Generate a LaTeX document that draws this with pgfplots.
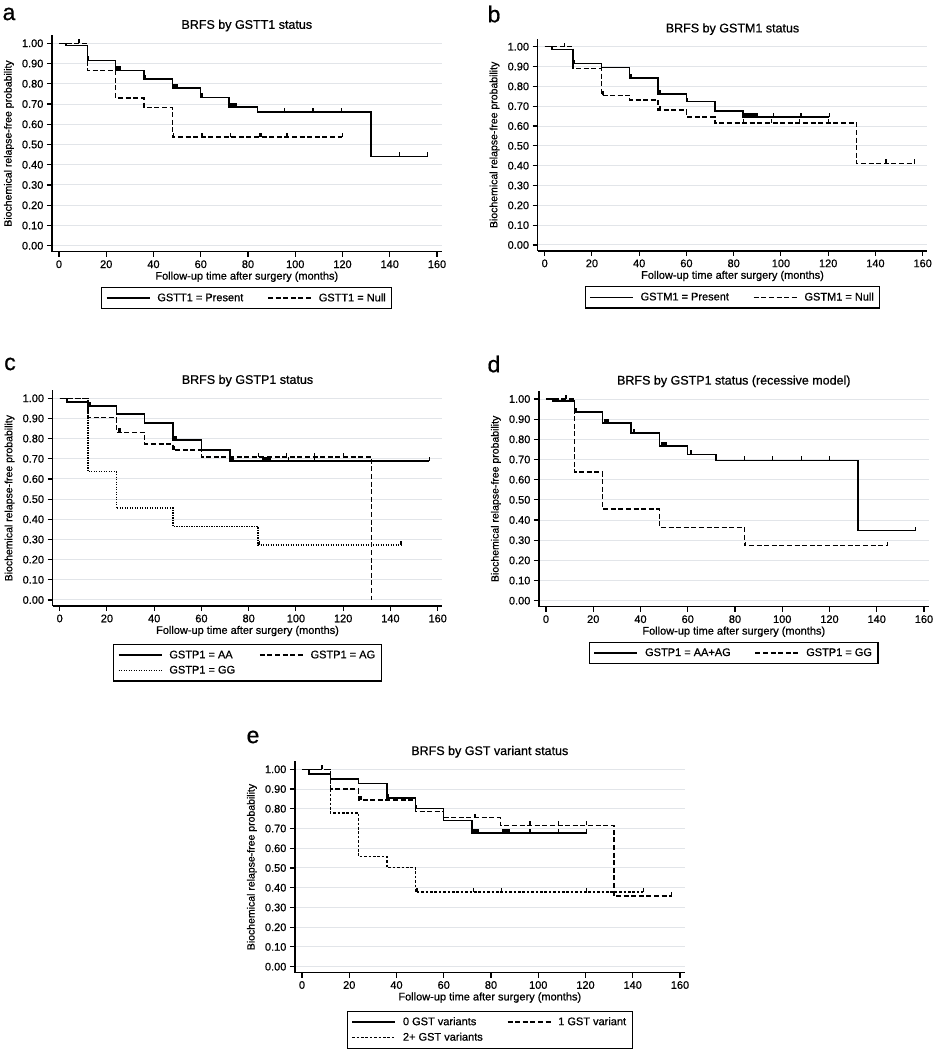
\documentclass[border=0pt]{standalone}
\usepackage{pgfplots}
\pgfplotsset{compat=1.18}
\usepackage{fontspec}
\setmainfont{Liberation Sans}[FakeBold=0.7]
\definecolor{gridgray}{RGB}{226,229,233}
\pgfdeclareplotmark{cens}{\pgfpathmoveto{\pgfqpoint{0pt}{0pt}}\pgfpathlineto{\pgfqpoint{0pt}{\pgfplotmarksize}}\pgfusepathqstroke}
\pgfplotsset{
 km/.style={
  scale only axis, width=389.8pt,
  xmin=-3, xmax=162, ymin=-0.03, ymax=1.04,
  axis x line*=bottom, axis y line*=left,
  axis line style={-, line width=1.3pt, black},
  xtick={0,20,40,60,80,100,120,140,160},
  ytick={0,0.1,0.2,0.3,0.4,0.5,0.6,0.7,0.8,0.9,1},
  ymajorgrids, grid style={gridgray, line width=1pt},
  tick align=outside, major tick length=5pt,
  tick style={black, line width=1.1pt},
  ticklabel style={font=\fontsize{11}{13}\selectfont},
  /pgf/number format/assume math mode=true,
  yticklabel style={/pgf/number format/fixed, /pgf/number format/fixed zerofill, /pgf/number format/precision=2},
  xlabel={Follow-up time after surgery (months)},
  ylabel={Biochemical relapse-free probability},
  xlabel style={font=\fontsize{11}{13}\selectfont, at={(axis description cs:0.5,0)}, anchor=center, yshift=-25pt},
  ylabel style={font=\fontsize{10.5}{12}\selectfont, at={(axis description cs:-0.1103,0.5)}, anchor=center},
  title style={font=\fontsize{12.5}{15}\selectfont, at={(axis description cs:0.5,1)}, anchor=center, yshift=3.6pt},
  legend columns=2,
  legend cell align=left,
  legend image code/.code={\draw[#1] (0pt,0pt) -- (43pt,0pt);},
  legend style={draw=black, line width=1.2pt, font=\fontsize{11}{13}\selectfont, at={(0.5,0)}, anchor=north, yshift=-35pt, inner xsep=4pt, inner ysep=4pt, row sep=2pt, /tikz/every odd column/.append style={column sep=5pt}, /tikz/every even column/.append style={column sep=22pt}},
 },
 s1/.style={black, line width=1.5pt, const plot},
 s2/.style={black, line width=1.5pt, const plot, dash pattern=on 5pt off 2.6pt},
 s3/.style={black, line width=1.5pt, const plot, dash pattern=on 1.2pt off 1.3pt},
 s4/.style={black, line width=1.5pt, const plot, dash pattern=on 2.6pt off 1.8pt},
 cm/.style={forget plot, only marks, mark=cens, mark size=4pt, mark options={solid, black, line width=1.2pt}},
}
\begin{document}
\begin{tikzpicture}[x=1pt,y=1pt]
\useasboundingbox (0,0) rectangle (940,1050);
% ---------- a
\begin{axis}[km, height=216.6pt, at={(51.9pt,798.2pt)}, anchor=south west, title={BRFS by GSTT1 status}]
\addplot[s1] coordinates {(0,1)(3,0.988)(12,0.915)(24,0.866)(36,0.823)(48,0.780)(60,0.733)(72,0.685)(84,0.660)(132,0.441)(156,0.441)};
\addlegendentry{GSTT1 = Present}
\addplot[s2] coordinates {(0,1)(12,0.866)(24,0.729)(36,0.683)(48,0.537)(120,0.537)};
\addlegendentry{GSTT1 = Null}
\addplot[cm] coordinates {(12.5,0.915)(24.5,0.866)(25,0.866)(25.5,0.866)(26,0.866)(36.5,0.823)(48.5,0.78)(49,0.78)(49.5,0.78)(50,0.78)(60.5,0.733)(72.5,0.685)(73,0.685)(73.5,0.685)(74,0.685)(74.5,0.685)(75,0.685)(95.5,0.66)(107.5,0.66)(119.5,0.66)(144,0.441)(156,0.441)};
\addplot[cm] coordinates {(8.5,1)(48.5,0.537)(60.5,0.537)(72.5,0.537)(85,0.537)(85.5,0.537)(96.5,0.537)(120,0.537)};
\end{axis}
% ---------- b
\begin{axis}[km, height=212.2pt, at={(537.6pt,799.05pt)}, anchor=south west, title={BRFS by GSTM1 status}]
\addplot[s1] coordinates {(0,1)(3,0.986)(12,0.915)(24,0.896)(36,0.842)(48,0.762)(60,0.723)(72,0.675)(84,0.646)(120.5,0.646)};
\addlegendentry{GSTM1 = Present}
\addplot[s2] coordinates {(0,1)(12,0.890)(24,0.755)(36,0.730)(48,0.680)(60,0.646)(72,0.616)(132,0.411)(156.5,0.411)};
\addlegendentry{GSTM1 = Null}
\addplot[cm] coordinates {(12.5,0.915)(36.5,0.842)(48.5,0.762)(49,0.762)(60.5,0.723)(84.5,0.646)(85,0.646)(85.5,0.646)(86,0.646)(86.5,0.646)(87,0.646)(87.5,0.646)(88,0.646)(88.5,0.646)(89,0.646)(89.5,0.646)(90,0.646)(97,0.646)(108.5,0.646)(120.5,0.646)};
\addplot[cm] coordinates {(8.5,1)(24.5,0.755)(25,0.755)(48.5,0.68)(49,0.68)(84,0.616)(96,0.616)(108,0.616)(120,0.616)(144.5,0.411)(156.5,0.411)};
\end{axis}
% ---------- c
\begin{axis}[km, height=215.8pt, at={(52.6pt,443.95pt)}, anchor=south west, title={BRFS by GSTP1 status}, legend style={yshift=-3pt}]
\addplot[s1] coordinates {(0,1)(3,0.982)(12,0.961)(24,0.921)(36,0.877)(48,0.793)(60,0.744)(72,0.688)(156.5,0.688)};
\addlegendentry{GSTP1 = AA}
\addplot[s2] coordinates {(0,1)(12,0.904)(24,0.831)(36,0.774)(48,0.744)(60,0.709)(132,0)};
\addlegendentry{GSTP1 = AG}
\addplot[s3] coordinates {(0,1)(12,0.636)(24,0.455)(48,0.364)(84,0.273)(144.5,0.273)};
\addlegendentry{GSTP1 = GG}
\addplot[cm] coordinates {(12.5,0.961)(13,0.961)(48.5,0.793)(49,0.793)(49.5,0.793)(72.5,0.688)(73,0.688)(73.5,0.688)(86,0.688)(86.5,0.688)(87,0.688)(87.5,0.688)(88,0.688)(88.5,0.688)(89,0.688)(97,0.688)(108,0.688)(156.5,0.688)};
\addplot[cm] coordinates {(25,0.831)(25.5,0.831)(48.5,0.744)(84,0.709)(96,0.709)(108,0.709)(120,0.709)};
\addplot[cm] coordinates {(84.5,0.273)(144.5,0.273)};
\end{axis}
% ---------- d
\begin{axis}[km, height=215.8pt, at={(538.9pt,443.25pt)}, anchor=south west, title={BRFS by GSTP1 status (recessive model)}]
\addplot[s1] coordinates {(0,1)(3,0.990)(12,0.936)(24,0.881)(36,0.831)(48,0.768)(60,0.725)(72,0.696)(132,0.348)(156.5,0.348)};
\addlegendentry{GSTP1 = AA+AG}
\addplot[s2] coordinates {(0,1)(12,0.637)(24,0.455)(48,0.364)(84,0.273)(144.5,0.273)};
\addlegendentry{GSTP1 = GG}
\addplot[cm] coordinates {(12.5,0.936)(13,0.936)(25,0.881)(25.5,0.881)(26,0.881)(26.5,0.881)(37,0.831)(37.5,0.831)(49,0.768)(49.5,0.768)(50,0.768)(50.5,0.768)(51,0.768)(61,0.725)(61.5,0.725)(84,0.696)(96,0.696)(108,0.696)(120,0.696)(156.5,0.348)};
\addplot[cm] coordinates {(8.5,1)(84.5,0.273)(144.5,0.273)};
\end{axis}
% ---------- e
\begin{axis}[km, height=211.2pt, at={(294.9pt,77.4pt)}, anchor=south west, title={BRFS by GST variant status}, legend style={yshift=-3pt}]
\addplot[s1] coordinates {(0,1)(3,0.976)(12,0.952)(24,0.929)(36,0.855)(48,0.801)(60,0.740)(72,0.677)(120.5,0.677)};
\addlegendentry{0 GST variants}
\addplot[s2] coordinates {(0,1)(12,0.899)(24,0.845)(48,0.787)(60,0.755)(84,0.716)(132,0.358)(156.5,0.358)};
\addlegendentry{1 GST variant}
\addplot[s4] coordinates {(0,1)(12,0.779)(24,0.557)(36,0.502)(48,0.378)(144.5,0.378)};
\addlegendentry{2+ GST variants}
\addplot[cm] coordinates {(36.5,0.855)(48.5,0.801)(72.5,0.677)(73,0.677)(73.5,0.677)(74,0.677)(74.5,0.677)(85,0.677)(85.5,0.677)(86,0.677)(86.5,0.677)(87,0.677)(87.5,0.677)(88,0.677)(96.5,0.677)(108.5,0.677)(120.5,0.677)};
\addplot[cm] coordinates {(8.5,1)(24.5,0.845)(25,0.845)(73,0.755)(73.5,0.755)(96.5,0.716)(108.5,0.716)(120.5,0.716)(156.5,0.358)};
\addplot[cm] coordinates {(48.5,0.378)(49,0.378)(72.5,0.378)(84.5,0.378)(120.5,0.378)(144.5,0.378)};
\end{axis}
\node[font=\fontsize{23}{26}\selectfont] at (9,1036) {a};
\node[font=\fontsize{23}{26}\selectfont] at (494,1036) {b};
\node[font=\fontsize{23}{26}\selectfont] at (10,686) {c};
\node[font=\fontsize{23}{26}\selectfont] at (494,686) {d};
\node[font=\fontsize{23}{26}\selectfont] at (253,313) {e};
\end{tikzpicture}
\end{document}
